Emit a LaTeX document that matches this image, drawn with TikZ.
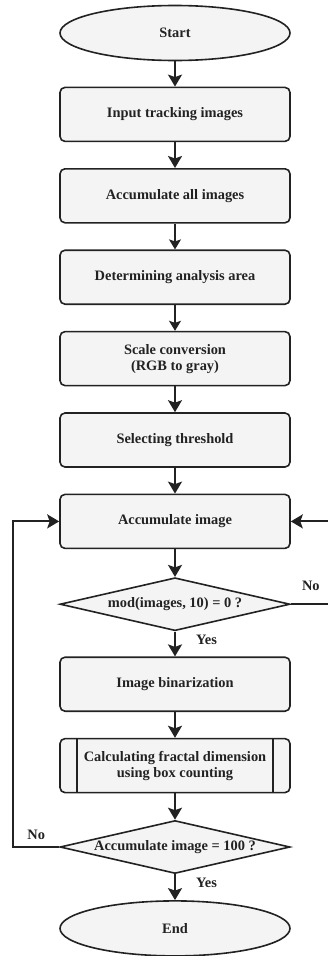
\documentclass[tikz,border=0pt]{standalone}
\usepackage{fontspec}
\setmainfont{Liberation Serif}
\usetikzlibrary{shapes.geometric,arrows.meta}
\definecolor{boxfill}{HTML}{F4F4F4}
\definecolor{edgegray}{HTML}{222222}
\tikzstyle{terminator} = [ellipse, draw, fill=boxfill, text centered, minimum width=230pt, minimum height=55pt]
\tikzstyle{process} = [rectangle, draw, fill=boxfill, rounded corners=5pt, text centered, minimum width=230pt, minimum height=54pt]
\tikzstyle{predefined} = [process, path picture={
        \draw[line width=1.6pt, edgegray] ([xshift=17pt]path picture bounding box.north west) -- ([xshift=17pt]path picture bounding box.south west);
        \draw[line width=1.6pt, edgegray] ([xshift=-17pt]path picture bounding box.north east) -- ([xshift=-17pt]path picture bounding box.south east);
    }]
\tikzstyle{decision} = [diamond, aspect=4.3, draw, fill=boxfill, inner sep=0pt, minimum width=230pt, minimum height=53pt]
\tikzstyle{connector} = [line width=2pt, -{Stealth[length=12pt, width=14pt, inset=2.5pt]}]
\tikzstyle{thin connector} = [line width=1.4pt, -{Stealth[length=10pt, width=12pt, inset=2pt]}]

\begin{document}
\begin{tikzpicture}[every text node part/.style={align=center}, node distance=81.4pt, every node/.style={font=\bfseries\fontsize{14.4}{16}\selectfont, line width=1.6pt, draw=edgegray, text=edgegray}, edgegray]
        \useasboundingbox (0,0) rectangle (328pt,-956pt);
        \node (start) [terminator] at (175pt,-33pt) {Start};
        \node (input) [process, below of = start] {Input tracking images};
        \node (acc-all) [process, below of = input] {Accumulate all images};
        \node (area) [process, below of = acc-all] {Determining analysis area};
        \node (gray) [process, below of = area] {Scale conversion\\(RGB to gray)};
        \node (threshold) [process, below of = gray] {Selecting threshold};
        \node (acc-image) [process, below of = threshold] {Accumulate image};
        \node (mod-check) [decision, below of = acc-image, yshift = -1.4pt] {mod(images, 10) = 0 ?};
        \node (binarize) [process, below of = mod-check, yshift = 1.4pt] {Image binarization};
        \node (fractal) [predefined, below of = binarize] {Calculating fractal dimension\\using box counting};
        \node (count-check) [decision, below of = fractal] {Accumulate image = 100 ?};
        \node (end) [terminator, below of = count-check] {End};
        \draw [connector] (start) -- (input);
        \draw [connector] (input) -- (acc-all);
        \draw [thin connector] (acc-all) -- (area);
        \draw [thin connector] (area) -- (gray);
        \draw [connector] (gray) -- (threshold);
        \draw [connector] (threshold) -- (acc-image);
        \draw [connector] (acc-image) -- (mod-check);
        \draw [connector] (mod-check) -- node[pos=0.35, right=17pt, draw=none] {Yes} (binarize);
        \draw [connector] (mod-check.east) -- node[above=9pt, draw=none] {No} ++(40pt,0) |- (acc-image.east);
        \draw [connector] (binarize) -- (fractal);
        \draw [connector] (fractal) -- (count-check);
        \draw [connector] (count-check) -- node[pos=0.35, right=17pt, draw=none] {Yes} (end);
        \draw [connector] (count-check.west) -- node[above=3pt, draw=none] {No} ++(-46pt,0) |- (acc-image.west);
    \end{tikzpicture}
\end{document}
